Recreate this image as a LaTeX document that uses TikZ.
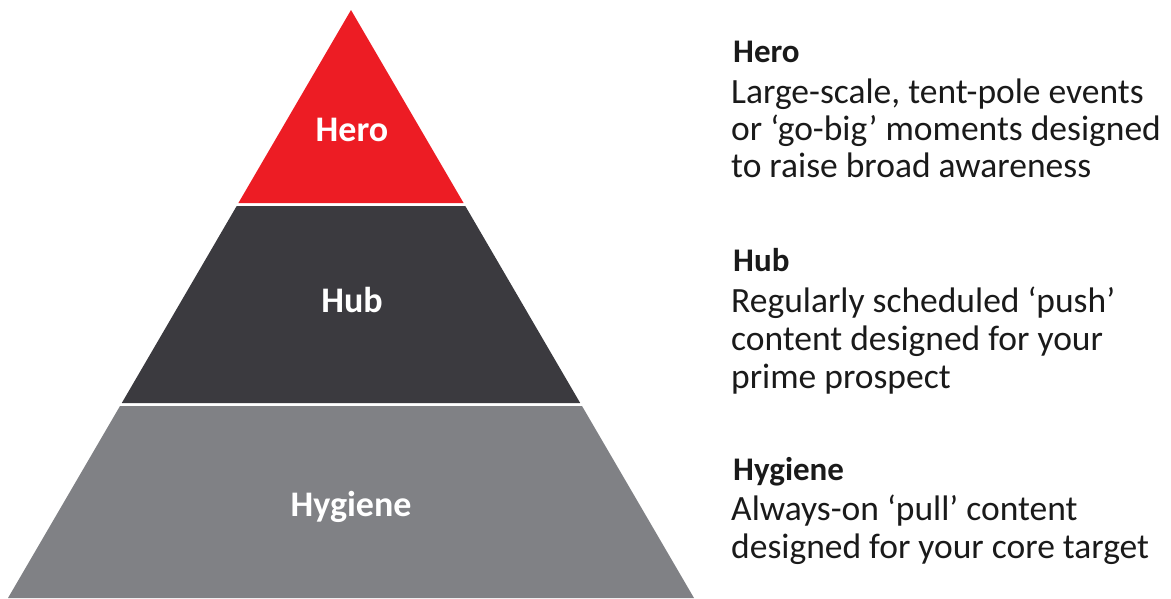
\documentclass[tikz,border=0pt]{standalone}
\usepackage{fontspec}
\setmainfont{Carlito}
\usetikzlibrary{positioning}
\definecolor{heroRed}{HTML}{ED1C24}
\definecolor{hubDark}{HTML}{3B3A3F}
\definecolor{hygGray}{HTML}{808185}
\definecolor{inkBlack}{HTML}{1A1A1A}
\tikzstyle{band}=[draw=none]
\tikzstyle{levelname}=[text=white, font=\fontsize{36}{40}\selectfont\bfseries, inner sep=0pt]
\tikzstyle{heading}=[anchor=base west, inner sep=0pt, text=inkBlack, font=\fontsize{33}{36}\selectfont\bfseries]
\tikzstyle{bodytext}=[anchor=base west, inner sep=0pt, text=inkBlack, font=\fontsize{35.5}{38}\selectfont]

\begin{document}
\begin{tikzpicture}[x=1pt, y=-1pt]
	\useasboundingbox (0,0) rectangle (1171,598);
	% pyramid corners
	\path (351,10) coordinate (top);
	\path (238.4,203) coordinate (heroL);
	\path (463.6,203) coordinate (heroR);
	\path (236.7,206) coordinate (hubTL);
	\path (465.3,206) coordinate (hubTR);
	\path (121.8,403) coordinate (hubBL);
	\path (580.2,403) coordinate (hubBR);
	\path (120,406) coordinate (hygTL);
	\path (582,406) coordinate (hygTR);
	\path (8,598) coordinate (hygBL);
	\path (694,598) coordinate (hygBR);
	
	\fill[band, heroRed] (top) -- (heroR) -- (heroL) -- cycle;
	\fill[band, hubDark] (hubTL) -- (hubTR) -- (hubBR) -- (hubBL) -- cycle;
	\fill[band, hygGray] (hygTL) -- (hygTR) -- (hygBR) -- (hygBL) -- cycle;
	
	\node[levelname] (heroLbl) at (352,130) {Hero};
	\node[levelname] (hubLbl) at (352,300) {Hub};
	\node[levelname] (hygLbl) at (351,507) {Hygiene};
	
	% descriptions
	\node[heading] (heroHead) at (733,62) {Hero};
	\foreach \y/\txt [count=\i] in {103/{Large-scale, tent-pole events}, 140/{or ‘go-big’ moments designed}, 177/{to raise broad awareness}}
	\node[bodytext] (hero\i) at (731,\y) {\txt};
	
	\node[heading] (hubHead) at (733,271) {Hub};
	\foreach \y/\txt [count=\i] in {312/{Regularly scheduled ‘push’}, 350/{content designed for your}, 388/{prime prospect}}
	\node[bodytext] (hub\i) at (731,\y) {\txt};
	
	\node[heading] (hygHead) at (733,480) {Hygiene};
	\foreach \y/\txt [count=\i] in {520/{Always-on ‘pull’ content}, 558/{designed for your core target}}
	\node[bodytext] (hyg\i) at (731,\y) {\txt};
\end{tikzpicture}
\end{document}
